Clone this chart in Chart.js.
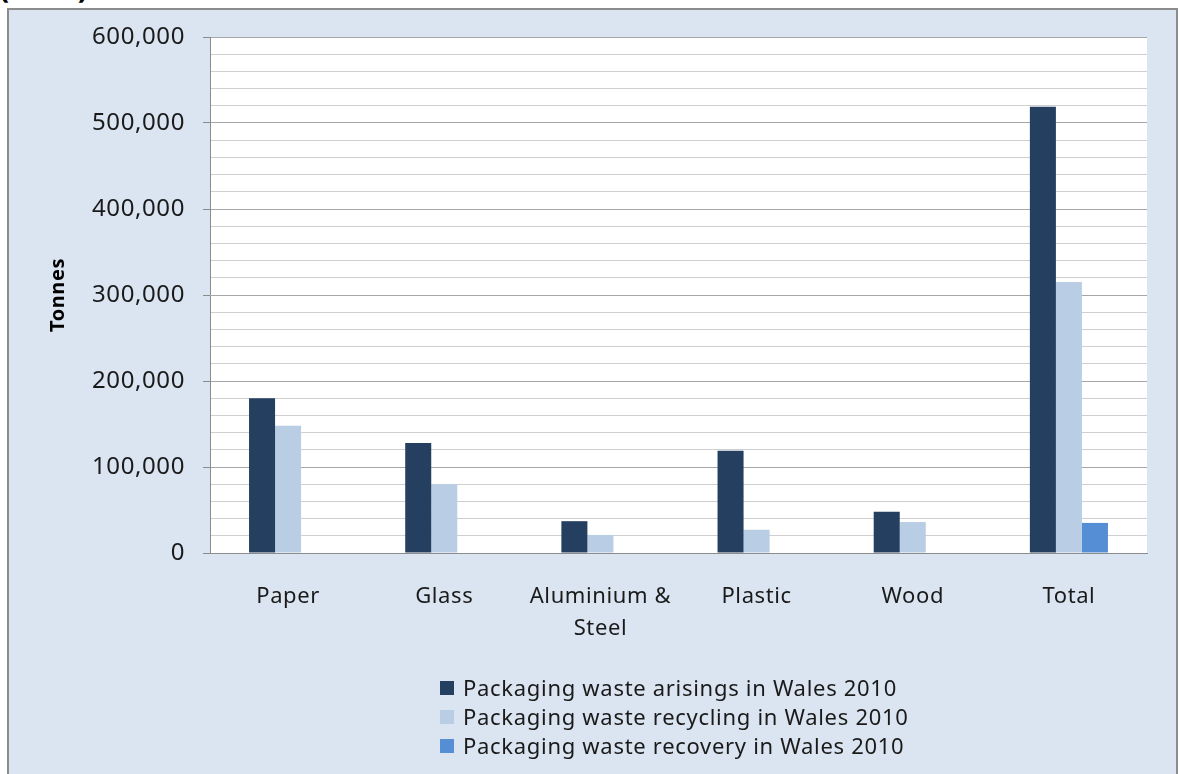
<!DOCTYPE html>
<html>
<head>
<meta charset="utf-8">
<script src="https://cdn.jsdelivr.net/npm/chart.js@4.4.1/dist/chart.umd.min.js"></script>
<style>
  html, body { margin: 0; padding: 0; background: #ffffff; }
  body { width: 1178px; height: 774px; position: relative; overflow: hidden; font-family: 'Noto Sans', sans-serif; }
  #cut { position: absolute; left: -1px; top: -34px; font: bold 30px 'Noto Sans', sans-serif; color: #000; }
  #frame { position: absolute; left: 7px; top: 8px; width: 1167px; height: 775px; border: 2px solid #8c8c8c; background: #dbe5f1; }
  #wrap { position: absolute; left: 0; top: 0; width: 1178px; height: 774px; }
  #legend { position: absolute; left: 440px; top: 673px; font-size: 22px; letter-spacing: 0.7px; color: #1a1a1a; line-height: 29px; }
  #legend .item { display: flex; align-items: center; white-space: nowrap; }
  #legend .box { width: 14px; height: 14px; margin-right: 9px; }
</style>
</head>
<body>
<div id="cut">(2010)</div>
<div id="frame"></div>
<div id="wrap"><canvas id="chart" width="1178" height="774"></canvas></div>
<div id="legend"></div>
<script>
(function () {
  'use strict';

  var categories = ['Paper', 'Glass', ['Aluminium &', 'Steel'], 'Plastic', 'Wood', 'Total'];
  var arisings = [180000, 128000, 37000, 119000, 48000, 519000];
  var recycling = [148000, 80000, 21000, 27000, 36000, 315000];
  var recovery = [null, null, null, null, null, 35000];
  var seriesNames = [
    'Packaging waste arisings in Wales 2010',
    'Packaging waste recycling in Wales 2010',
    'Packaging waste recovery in Wales 2010'
  ];
  var seriesColors = ['#243f60', '#b9cde5', '#558ed5'];

  var FONT = '"Noto Sans", sans-serif';

  // white plot area behind the bars, plus a touch of letter spacing
  var plotBg = {
    id: 'plotBg',
    beforeLayout: function (chart) {
      chart.ctx.letterSpacing = '0.6px';
    },
    beforeDraw: function (chart) {
      var a = chart.chartArea;
      var ctx = chart.ctx;
      ctx.letterSpacing = '0.6px';
      ctx.save();
      ctx.fillStyle = '#ffffff';
      ctx.fillRect(a.left, a.top, a.right - a.left, a.bottom - a.top);
      ctx.restore();
    }
  };

  var datasets = [arisings, recycling, recovery].map(function (d, i) {
    return {
      label: seriesNames[i],
      data: d,
      backgroundColor: seriesColors[i],
      borderWidth: 0,
      categoryPercentage: 0.5,
      barPercentage: 1.0
    };
  });

  new Chart(document.getElementById('chart'), {
    type: 'bar',
    data: { labels: categories, datasets: datasets },
    plugins: [plotBg],
    options: {
      responsive: false,
      animation: false,
      layout: { padding: { left: 0, top: 37, right: 31, bottom: 101 } },
      plugins: {
        legend: { display: false },
        tooltip: { enabled: false }
      },
      scales: {
        x: {
          grid: { display: false, drawTicks: false },
          border: { display: true, color: '#8c8c8c', width: 1 },
          ticks: {
            font: { family: FONT, size: 22, lineHeight: 1.45 },
            color: '#1a1a1a',
            padding: 28,
            maxRotation: 0,
            autoSkip: false
          },
          afterFit: function (s) { s.height = 120; }
        },
        y: {
          min: 0,
          max: 600000,
          border: { display: true, color: '#8c8c8c', width: 1 },
          grid: {
            color: function (c) {
              return c.tick && c.tick.value % 100000 === 0 ? '#a6a6a6' : '#cfcfcf';
            },
            tickColor: function (c) {
              return c.tick && c.tick.value % 100000 === 0 ? '#8c8c8c' : 'rgba(0,0,0,0)';
            },
            tickLength: 7,
            lineWidth: 1
          },
          ticks: {
            stepSize: 20000,
            autoSkip: false,
            padding: 18,
            font: { family: FONT, size: 24 },
            color: '#1a1a1a',
            callback: function (v) {
              return v % 100000 === 0 ? v.toLocaleString('en-US') : '';
            }
          },
          title: {
            display: true,
            text: 'Tonnes',
            font: { family: FONT, size: 20, weight: 'bold' },
            color: '#000',
            padding: { top: 46, bottom: 0 }
          },
          afterFit: function (s) { s.width = 210; }
        }
      }
    }
  });

  // legend, one entry per line
  var legend = document.getElementById('legend');
  seriesNames.forEach(function (name, i) {
    var row = document.createElement('div');
    row.className = 'item';
    var box = document.createElement('span');
    box.className = 'box';
    box.style.background = seriesColors[i];
    var txt = document.createElement('span');
    txt.textContent = name;
    row.appendChild(box);
    row.appendChild(txt);
    legend.appendChild(row);
  });
})();
</script>
</body>
</html>
